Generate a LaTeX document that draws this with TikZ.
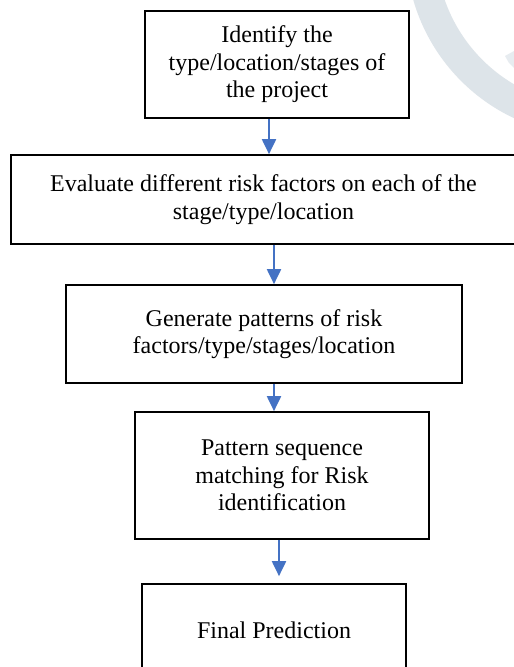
\documentclass[tikz,border=0pt]{standalone}
\usepackage{fontspec}
\setmainfont{Liberation Serif}
\usetikzlibrary{arrows.meta,calc}
\definecolor{arrowblue}{RGB}{68,114,196}
\definecolor{wmark}{RGB}{221,228,233}
\tikzset{
  stepbox/.style={draw=black, line width=1.7pt, align=center, inner sep=2pt,
    font=\fontsize{24}{27.6}\selectfont},
  flowarrow/.style={draw=arrowblue, line width=2pt,
    -{Triangle[width=14pt,length=15pt]}}
}
\begin{document}
\begin{tikzpicture}[x=1pt,y=-1pt]
\useasboundingbox (0,0) rectangle (514,667);
\fill[white] (0,0) rectangle (514,667);
\clip (0,0) rectangle (514,667);
% watermark arc
\draw[wmark, line width=30pt] (594,-52) circle (173pt);
\fill[wmark!70!white] (505,56) -- (514,51) -- (514,68) -- (509,63) -- cycle;
% boxes
\node[stepbox, minimum width=264pt, minimum height=107pt] (b1) at (277,64.5)
  {Identify the\\type/location/stages of\\the project};
\node[stepbox, minimum width=505pt, minimum height=89pt] (b2) at (263.5,199.5)
  {Evaluate different risk factors on each of the\\stage/type/location};
\node[stepbox, minimum width=396pt, minimum height=98pt] (b3) at (264,334)
  {Generate patterns of risk\\factors/type/stages/location};
\node[stepbox, minimum width=294pt, minimum height=127pt] (b4) at (282,475.5)
  {Pattern sequence\\matching for Risk\\identification};
\node[stepbox, minimum width=264pt, minimum height=92pt] (b5) at (274,630)
  {Final Prediction};
% connectors
\draw[flowarrow] ([xshift=-8pt]b1.south) -- ([xshift=-8pt]b1.south |- b2.north);
\draw[flowarrow] ([xshift=10.5pt]b2.south) -- ([xshift=10.5pt]b2.south |- b3.north);
\draw[flowarrow] ([xshift=10pt]b3.south) -- ([xshift=10pt]b3.south |- b4.north);
\draw[flowarrow, shorten >=7pt] ([xshift=-3pt]b4.south) -- ([xshift=-3pt]b4.south |- b5.north);
\end{tikzpicture}
\end{document}
